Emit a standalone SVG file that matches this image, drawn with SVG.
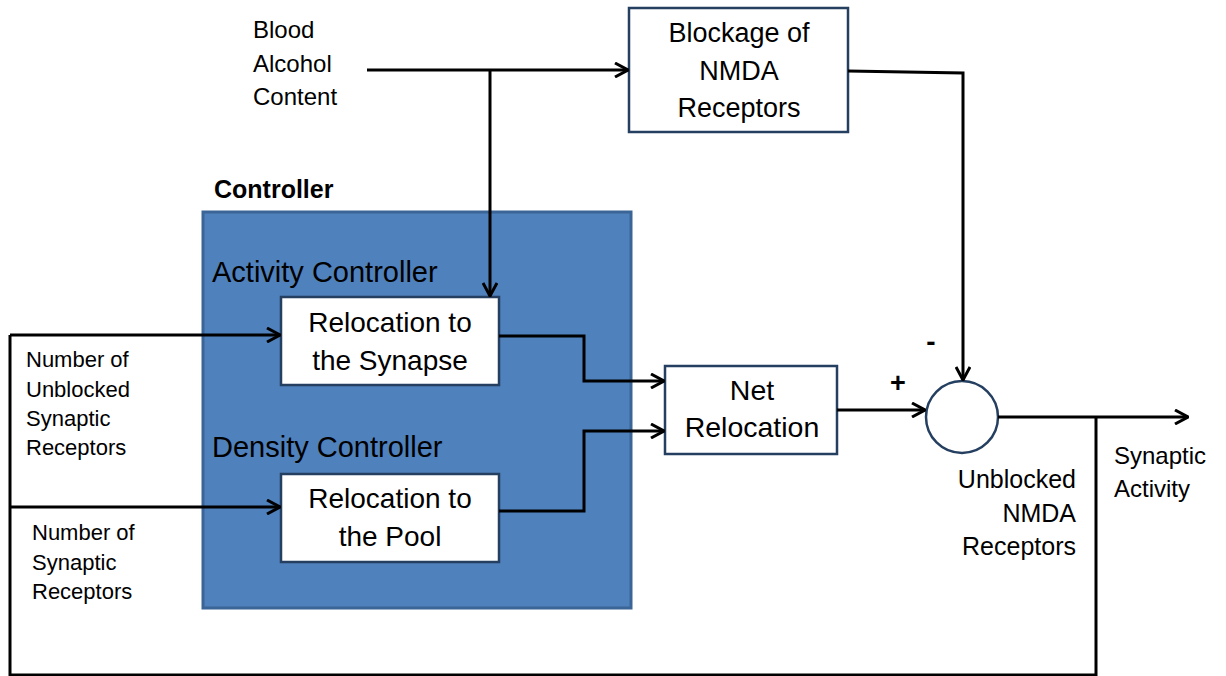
<svg xmlns="http://www.w3.org/2000/svg" width="1226" height="676" viewBox="0 0 1226 676">
<style>
text{font-family:"Liberation Sans",Arial,sans-serif;fill:#000}
.box{fill:#fff;stroke:#243F60;stroke-width:2.5}
.bt{font-size:28px;text-anchor:middle}
.lbl{font-size:22px}
.line{fill:none;stroke:#000;stroke-width:3}
.arr{marker-end:url(#ah)}
</style>
<defs>
<marker id="ah" markerUnits="userSpaceOnUse" viewBox="0 0 16 16" markerWidth="16" markerHeight="16" refX="15" refY="8" orient="auto">
<path d="M2,1 L15,8 L2,15" fill="none" stroke="#000" stroke-width="3"/>
</marker>
</defs>
<rect x="0" y="0" width="1226" height="676" fill="#fff"/>

<g id="controller">
<rect x="203" y="212" width="428" height="396" fill="#4F81BD" stroke="#3A6596" stroke-width="3"/>
<text x="214" y="198" style="font-size:25px;font-weight:bold">Controller</text>
<text x="212" y="282" style="font-size:29px">Activity Controller</text>
<text x="212" y="457" style="font-size:29px">Density Controller</text>
</g>

<g id="blood-alcohol">
<text x="253" y="38" style="font-size:24px">Blood</text>
<text x="253" y="72" style="font-size:24px">Alcohol</text>
<text x="253" y="105" style="font-size:24px">Content</text>
</g>

<g id="blockage">
<rect class="box" x="629" y="8" width="219" height="124"/>
<text class="bt" x="739" y="42" style="font-size:27px">Blockage of</text>
<text class="bt" x="739" y="80" style="font-size:27px">NMDA</text>
<text class="bt" x="739" y="117" style="font-size:27px">Receptors</text>
</g>

<g id="reloc-synapse">
<rect class="box" x="281" y="297" width="218" height="88"/>
<text class="bt" x="390" y="332">Relocation to</text>
<text class="bt" x="390" y="370">the Synapse</text>
</g>

<g id="reloc-pool">
<rect class="box" x="281" y="474" width="218" height="88"/>
<text class="bt" x="390" y="508">Relocation to</text>
<text class="bt" x="390" y="546">the Pool</text>
</g>

<g id="net-relocation">
<rect class="box" x="665" y="366" width="172" height="88"/>
<text class="bt" x="752" y="400" style="font-size:28.5px">Net</text>
<text class="bt" x="752" y="437" style="font-size:28.5px">Relocation</text>
</g>

<g id="sum">
<circle cx="962" cy="417" r="36" fill="#fff" stroke="#243F60" stroke-width="2.5"/>
<text x="898" y="392" style="font-size:27px;font-weight:bold;text-anchor:middle">+</text>
<text x="931" y="351" style="font-size:28px;font-weight:bold;text-anchor:middle">-</text>
</g>

<g id="labels">
<text class="lbl" x="26" y="367">Number of</text>
<text class="lbl" x="26" y="397">Unblocked</text>
<text class="lbl" x="26" y="426">Synaptic</text>
<text class="lbl" x="26" y="455">Receptors</text>
<text class="lbl" x="32" y="540">Number of</text>
<text class="lbl" x="32" y="570">Synaptic</text>
<text class="lbl" x="32" y="599">Receptors</text>
<text x="1076" y="488" style="font-size:25px;text-anchor:end">Unblocked</text>
<text x="1076" y="522" style="font-size:25px;text-anchor:end">NMDA</text>
<text x="1076" y="555" style="font-size:25px;text-anchor:end">Receptors</text>
<text x="1114" y="464" style="font-size:24px">Synaptic</text>
<text x="1114" y="497" style="font-size:24px">Activity</text>
</g>

<g id="connectors">
<path class="line arr" d="M367,70 L628,70"/>
<path class="line arr" d="M490,70 L490,296"/>
<path class="line arr" d="M848,71 L963,73 L963,380"/>
<path class="line arr" d="M499,336 L584,336 L584,381 L664,381"/>
<path class="line arr" d="M499,511 L584,511 L584,431 L664,431"/>
<path class="line arr" d="M837,410 L925,410"/>
<path class="line arr" d="M998,417 L1188,417"/>
<path class="line" d="M1096,417 L1096,675 L10,675 L10,335"/>
<path class="line arr" d="M10,335 L280,335"/>
<path class="line arr" d="M10,507 L280,507"/>
</g>
</svg>
